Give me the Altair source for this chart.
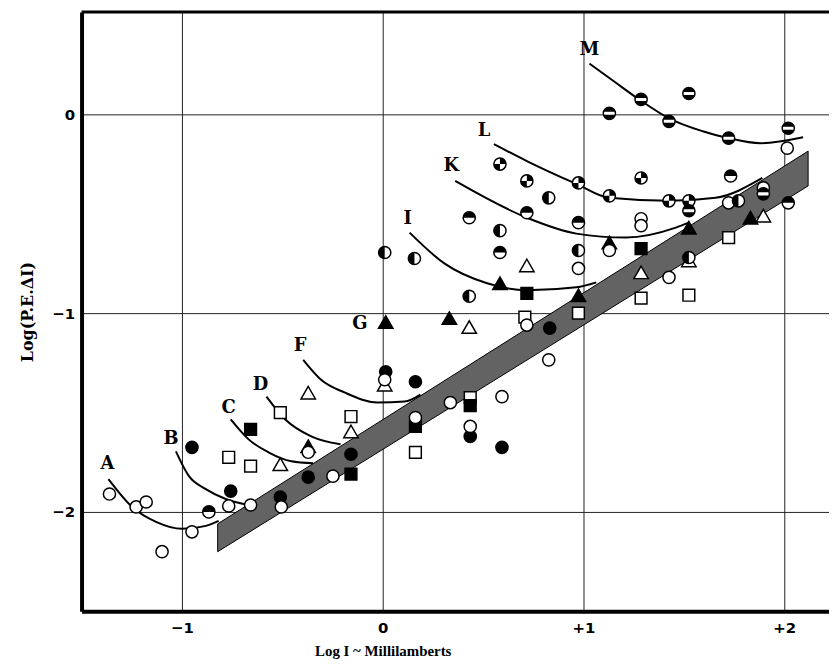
import altair as alt
import pandas as pd

# ---------------- axis ranges / ticks ----------------
X_DOMAIN = [-1.5, 2.223]
Y_DOMAIN = [-2.5, 0.515]
X_TICKS = [-1, 0, 1, 2]
Y_TICKS = [-2, -1, 0]

# ---------------- shaded band ----------------
band_x = [-0.822, 2.119]
band_top = [-2.06, -0.185]
band_bottom = [-2.20, -0.36]

# ---------------- fitted curves ----------------
curve_A_x = [-1.366, -1.248, -1.129, -1.0, -0.881, -0.817]
curve_A_y = [-1.835, -1.975, -2.05, -2.085, -2.07, -2.045]
curve_B_x = [-1.03, -0.965, -0.881, -0.782, -0.668]
curve_B_y = [-1.695, -1.82, -1.885, -1.935, -1.965]
curve_C_x = [-0.757, -0.668, -0.569, -0.455, -0.347]
curve_C_y = [-1.535, -1.635, -1.70, -1.745, -1.755]
curve_D_x = [-0.579, -0.485, -0.356, -0.21]
curve_D_y = [-1.42, -1.535, -1.62, -1.66]
curve_F_x = [-0.396, -0.307, -0.188, -0.025, 0.109, 0.188]
curve_F_y = [-1.235, -1.335, -1.40, -1.45, -1.445, -1.41]
curve_I_x = [0.134, 0.307, 0.52, 0.718, 0.965, 1.064]
curve_I_y = [-0.595, -0.75, -0.85, -0.885, -0.87, -0.845]
curve_K_x = [0.361, 0.718, 0.965, 1.213, 1.46, 1.525]
curve_K_y = [-0.335, -0.52, -0.60, -0.62, -0.57, -0.545]
curve_L_x = [0.554, 0.718, 0.965, 1.129, 1.426, 1.658, 1.891]
curve_L_y = [-0.15, -0.235, -0.35, -0.42, -0.435, -0.42, -0.32]
curve_M_x = [1.03, 1.153, 1.277, 1.426, 1.594, 1.723, 1.881, 2.094]
curve_M_y = [0.255, 0.165, 0.075, -0.02, -0.085, -0.12, -0.145, -0.115]

# ---------------- curve labels ----------------
label_text = ["A", "B", "C", "D", "F", "G", "I", "K", "L", "M"]
label_x = [-1.371, -1.054, -0.767, -0.609, -0.411, -0.114, 0.124, 0.342, 0.505, 1.03]
label_y = [-1.76, -1.635, -1.475, -1.36, -1.165, -1.055, -0.525, -0.26, -0.085, 0.325]

# ---------------- observations by symbol ----------------
open_circle_x = [-1.361, -1.228, -1.178, -1.099, -0.950, -0.767, -0.658, -0.505, -0.371,
                 -0.248, 0.010, 0.163, 0.337, 0.436, 0.594, 0.718, 0.827, 0.975,
                 1.287, 1.287, 1.129, 1.426, 1.723, 2.015, 1.896]
open_circle_y = [-1.91, -1.975, -1.95, -2.20, -2.10, -1.97, -1.965, -1.975, -1.70,
                 -1.82, -1.335, -1.525, -1.45, -1.57, -1.42, -1.06, -1.235, -0.775,
                 -0.525, -0.56, -0.685, -0.82, -0.445, -0.17, -0.37]

filled_circle_x = [-0.950, -0.757, -0.510, -0.371, -0.158, 0.015, 0.163, 0.436, 0.594, 0.832]
filled_circle_y = [-1.675, -1.895, -1.925, -1.825, -1.71, -1.295, -1.345, -1.62, -1.675, -1.075]

open_square_x = [-0.767, -0.658, -0.510, -0.158, 0.163, 0.436, 0.708, 0.975, 1.287, 1.525, 1.723]
open_square_y = [-1.725, -1.77, -1.50, -1.52, -1.70, -1.425, -1.02, -1.00, -0.925, -0.91, -0.62]

filled_square_x = [-0.658, -0.158, 0.163, 0.436, 0.718, 1.287]
filled_square_y = [-1.585, -1.81, -1.57, -1.465, -0.90, -0.675]

open_tri_x = [-0.158, -0.510, -0.371, 0.010, 0.431, 0.718, 1.287, 1.525, 1.896]
open_tri_y = [-1.595, -1.76, -1.40, -1.36, -1.07, -0.76, -0.795, -0.735, -0.51]

filled_tri_x = [-0.371, 0.015, 0.332, 0.584, 0.975, 1.525, 1.832, 1.129]
filled_tri_y = [-1.67, -1.045, -1.025, -0.85, -0.91, -0.57, -0.52, -0.645]

top_half_x = [0.431, 0.718, 0.975, 0.584, 1.733, 2.020, -0.866]
top_half_y = [-0.52, -0.495, -0.545, -0.695, -0.31, -0.445, -2.0]

left_half_x = [0.010, 0.158, 0.584, 0.827, 0.975, 0.431, 1.525, 1.772]
left_half_y = [-0.695, -0.725, -0.585, -0.42, -0.685, -0.915, -0.72, -0.435]

quarter_x = [0.584, 0.718, 0.975, 1.129, 1.287, 1.426, 1.525]
quarter_y = [-0.25, -0.335, -0.345, -0.41, -0.32, -0.435, -0.435]

barred_x = [1.129, 1.287, 1.525, 1.426, 1.723, 2.020, 1.896, 1.525]
barred_y = [0.005, 0.075, 0.105, -0.035, -0.12, -0.07, -0.40, -0.485]

# ---------------- build chart ----------------
W, H = 752, 603

X = alt.X("x:Q", scale=alt.Scale(domain=X_DOMAIN, nice=False, zero=False),
          axis=alt.Axis(values=X_TICKS, title="Log I ~ Millilamberts",
                        labelExpr="datum.value > 0 ? '+' + datum.label : datum.label",
                        grid=True, ticks=False, domain=True, domainColor="black", domainWidth=4,
                        gridColor="#222222", gridWidth=1,
                        labelFont="DejaVu Sans", labelFontWeight="bold", labelFontSize=15,
                        labelColor="black", labelPadding=9,
                        titleFont="Liberation Serif", titleFontWeight="bold", titleFontSize=15,
                        titleColor="black", titleX=303, titleAlign="center", titlePadding=8))
Y = alt.Y("y:Q", scale=alt.Scale(domain=Y_DOMAIN, nice=False, zero=False),
          axis=alt.Axis(values=Y_TICKS, title="Log(P.E.ΔI)",
                        grid=True, ticks=False, domain=True, domainColor="black", domainWidth=4,
                        gridColor="#222222", gridWidth=1,
                        labelFont="DejaVu Sans", labelFontWeight="bold", labelFontSize=15,
                        labelColor="black", labelPadding=7,
                        titleFont="DejaVu Serif", titleFontWeight="bold", titleFontSize=16,
                        titleColor="black", titlePadding=16))

band_df = pd.DataFrame({"x": band_x, "y": band_top, "y2": band_bottom})
band = alt.Chart(band_df).mark_area(fill="#636363", stroke="black", strokeWidth=1,
                                    opacity=1).encode(x=X, y=Y, y2="y2:Q")

curves = {
    "A": (curve_A_x, curve_A_y), "B": (curve_B_x, curve_B_y), "C": (curve_C_x, curve_C_y),
    "D": (curve_D_x, curve_D_y), "F": (curve_F_x, curve_F_y), "I": (curve_I_x, curve_I_y),
    "K": (curve_K_x, curve_K_y), "L": (curve_L_x, curve_L_y), "M": (curve_M_x, curve_M_y),
}
rows = []
for name, (xs, ys) in curves.items():
    for i, (a, b) in enumerate(zip(xs, ys)):
        rows.append({"curve": name, "order": i, "x": a, "y": b})
curve_df = pd.DataFrame(rows)
lines = alt.Chart(curve_df).mark_line(color="black", strokeWidth=2, interpolate="monotone").encode(
    x=X, y=Y, detail="curve:N", order="order:Q")

top_border = alt.Chart(pd.DataFrame({"y": [Y_DOMAIN[1]]})).mark_rule(
    color="black", strokeWidth=3).encode(y=Y)


def sym(xs, ys, shape, size, fill, stroke="black", sw=1.5):
    df = pd.DataFrame({"x": xs, "y": ys})
    return alt.Chart(df).mark_point(shape=shape, size=size, filled=True, fill=fill,
                                    stroke=stroke, strokeWidth=sw, opacity=1,
                                    fillOpacity=1).encode(x=X, y=Y)


TOP_HALF = "M-1,0 A1,1 0 0,1 1,0 Z"
LEFT_HALF = "M0,-1 A1,1 0 0,0 0,1 Z"
QUARTERS = "M0,0 L0,-1 A1,1 0 0,1 1,0 Z M0,0 L0,1 A1,1 0 0,1 -1,0 Z"
BARRED = "M-0.97,-0.25 A1,1 0 0,1 0.97,-0.25 Z M-0.97,0.25 A1,1 0 0,0 0.97,0.25 Z"

CS = 150   # circle size
SQ = 140   # square size
TR = 210   # triangle size

layers = [
    band, lines,
    sym(open_tri_x, open_tri_y, "triangle-up", TR, "white"),
    sym(filled_tri_x, filled_tri_y, "triangle-up", TR, "black"),
    sym(open_square_x, open_square_y, "square", SQ, "white"),
    sym(filled_square_x, filled_square_y, "square", SQ, "black"),
    sym(filled_circle_x, filled_circle_y, "circle", CS, "black"),
    sym(open_circle_x, open_circle_y, "circle", CS, "white"),
    sym(top_half_x, top_half_y, "circle", CS, "white"),
    sym(top_half_x, top_half_y, TOP_HALF, CS, "black", sw=0),
    sym(left_half_x, left_half_y, "circle", CS, "white"),
    sym(left_half_x, left_half_y, LEFT_HALF, CS, "black", sw=0),
    sym(quarter_x, quarter_y, "circle", CS, "white"),
    sym(quarter_x, quarter_y, QUARTERS, CS, "black", sw=0),
    sym(barred_x, barred_y, "circle", CS, "white"),
    sym(barred_x, barred_y, BARRED, CS, "black", sw=0),
]

label_df = pd.DataFrame({"x": label_x, "y": label_y, "t": label_text})
labels = alt.Chart(label_df).mark_text(font="DejaVu Serif", fontWeight="bold", fontSize=18,
                                       color="black").encode(x=X, y=Y, text="t:N")
layers.append(labels)
layers.append(top_border)

chart = alt.layer(*layers).properties(
    width=W, height=H,
    autosize=alt.AutoSizeParams(type="none"),
    padding={"left": 74, "top": 2, "right": 0, "bottom": 50},
    background="white",
).configure_view(stroke=None)

chart.save("out.html", embed_options={"renderer": "svg", "actions": False})
